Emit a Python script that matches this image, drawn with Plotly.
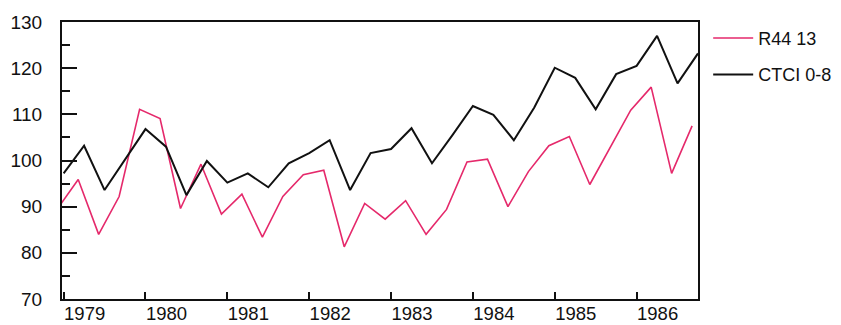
import plotly.graph_objects as go

# Quarterly data, 1979 Q1 .. 1986 Q4
quarters = [1979 + i * 0.25 for i in range(32)]
ctci = [97.2, 103.2, 93.6, 100.3, 106.8, 103.0, 92.5, 99.9,
        95.2, 97.2, 94.2, 99.4, 101.6, 104.4, 93.6, 101.6,
        102.5, 107.0, 99.4, 105.5, 111.8, 109.9, 104.4, 111.5,
        120.1, 117.9, 111.1, 118.7, 120.5, 127.0, 116.7, 123.2]
r44 = [89.6, 95.9, 84.0, 92.2, 111.1, 109.1, 89.6, 99.2,
       88.4, 92.7, 83.4, 92.2, 96.9, 97.9, 81.3, 90.7,
       87.3, 91.3, 84.0, 89.4, 99.7, 100.3, 90.0, 97.6,
       103.2, 105.2, 94.8, 103.0, 110.9, 115.9, 97.2, 107.5]
r44_shift = -0.072  # the red curve sits slightly left in the original print
years = [1979, 1980, 1981, 1982, 1983, 1984, 1985, 1986]
year_labels = [str(y) for y in years]
names = ["R44 13", "CTCI 0-8"]

FONT = "Liberation Sans, Arial, Helvetica, sans-serif"

fig = go.Figure()
fig.add_trace(go.Scatter(
    x=[q + r44_shift for q in quarters], y=r44, mode="lines", name=names[0],
    line=dict(color="#e5296b", width=1.6), cliponaxis=False, legendgroup="a"))
fig.add_trace(go.Scatter(
    x=quarters, y=ctci, mode="lines", name=names[1],
    line=dict(color="#111111", width=2), legendgroup="b"))

# page body has an 8px margin, so the figure is 8px smaller than the window
fig.update_layout(
    width=833, height=317,
    margin=dict(l=54, r=143, t=14, b=26, autoexpand=False),
    paper_bgcolor="white", plot_bgcolor="white",
    font=dict(family=FONT, size=19, color="#111111"),
    showlegend=True,
    legend=dict(x=1.016, xanchor="left", y=1.008, yanchor="top",
                font=dict(size=18), tracegroupgap=10, traceorder="grouped",
                itemwidth=40, bgcolor="rgba(0,0,0,0)"),
)
fig.update_xaxes(
    range=[1979 - 0.02, 1986.75], tickmode="array", tickvals=years, ticktext=year_labels,
    ticks="inside", ticklen=7, tickwidth=1.5, tickcolor="#111",
    showline=True, linecolor="#111", linewidth=2, mirror=True,
    showgrid=False, zeroline=False, ticklabelshift=21, ticklabelstandoff=-3,
    automargin=False, tickfont=dict(size=18.5))
fig.update_yaxes(
    range=[70, 130], tickmode="linear", tick0=70, dtick=10,
    ticks="inside", ticklen=15, tickwidth=1.5, tickcolor="#111",
    minor=dict(ticks="inside", ticklen=8, dtick=5, tick0=75, tickwidth=1.5, tickcolor="#111", showgrid=False),
    showline=True, linecolor="#111", linewidth=2, mirror=True,
    showgrid=False, zeroline=False, ticklabelstandoff=14,
    automargin=False, tickfont=dict(size=19))

fig.write_html("out.html")
